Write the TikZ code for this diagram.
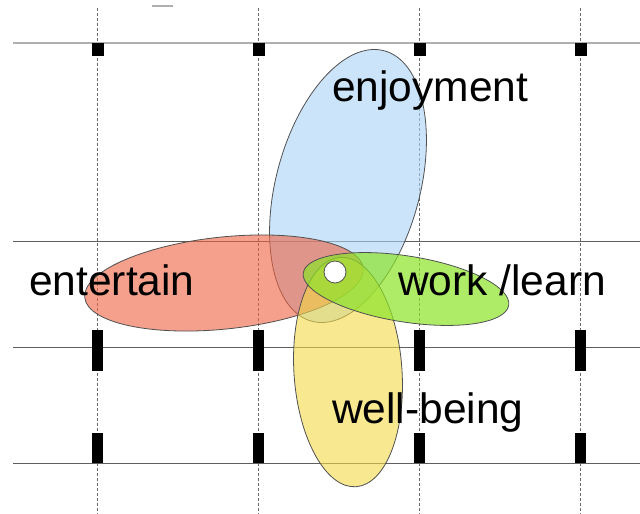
\documentclass[tikz,border=0pt]{standalone}
\usepackage{fontspec}
\setmainfont{Liberation Sans}
\definecolor{gridtop}{RGB}{175,175,175}
\definecolor{gridline}{RGB}{95,95,95}
\definecolor{dashline}{RGB}{105,105,105}
\definecolor{edge}{RGB}{80,80,80}
\definecolor{cblue}{RGB}{170,210,247}
\definecolor{cred}{RGB}{238,97,63}
\definecolor{cgreen}{RGB}{140,228,40}
\definecolor{cyellow}{RGB}{243,217,70}
\begin{document}
\begin{tikzpicture}[x=1pt,y=-1pt,
  hline/.style={draw=gridline, line width=1.8pt},
  vline/.style={draw=dashline, line width=0.9pt, dash pattern=on 3pt off 2pt},
  blob/.style={draw=edge, line width=0.8pt, fill opacity=0.6},
  lbl/.style={font=\fontsize{42.5}{48}\selectfont, inner sep=0pt, anchor=base west}
]
\useasboundingbox (0,0) rectangle (640,514);
% grid
\draw[gridtop, line width=1.4pt] (152,6) -- (173,6);
\foreach \x in {97.5,258.5,419.5,580.5} \draw[vline] (\x,8) -- (\x,514);
\draw[draw=gridtop, line width=2.4pt] (13,43) -- (640,43);
\foreach \y in {241.5,347.5,463.5} \draw[hline] (13,\y) -- (640,\y);
\foreach \x in {97.5,258.5,419.5,580.5} {
  \fill (\x-6,43) rectangle (\x+6,56);
  \fill (\x-5.5,330) rectangle (\x+5.5,371);
  \fill (\x-5.5,433) rectangle (\x+5.5,463);
}
% petals
\path[blob, fill=cblue, rotate around={-15:(348,186)}] (348,186) ellipse [x radius=72, y radius=140];
\path[blob, fill=cred, rotate around={6:(224,283)}] (224,283) ellipse [x radius=140, y radius=46];
\path[blob, fill=cyellow, rotate around={4:(348,372)}] (348,372) ellipse [x radius=54, y radius=115];
\path[blob, fill=cgreen, fill opacity=0.7, rotate around={-9:(406,289)}] (406,289) ellipse [x radius=104, y radius=33];
\draw[edge, fill=white, line width=0.8pt] (335,272) circle [radius=11];
% labels
\node[lbl] (enjoy) at (332,101) {enjoyment};
\node[lbl] (enter) at (29,295) {entertain};
\node[lbl] (work) at (398,295) {work /learn};
\node[lbl] (well) at (332,423) {well-being};
\end{tikzpicture}
\end{document}
